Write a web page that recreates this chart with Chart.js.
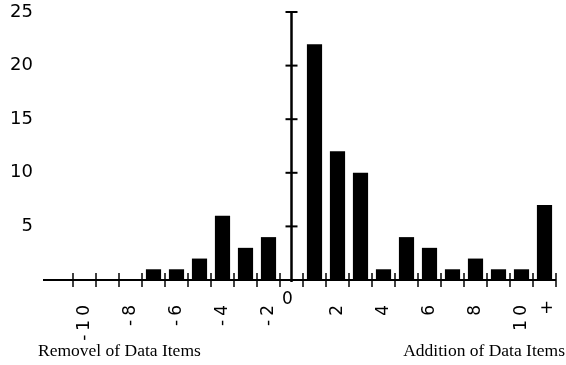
<!DOCTYPE html>
<html>
<head>
<meta charset="utf-8">
<title>Data item changes</title>
<script src="https://cdn.jsdelivr.net/npm/chart.js@4/dist/chart.umd.min.js"></script>
<style>
  body { margin: 0; background: #fff; }
  canvas { display: block; }
</style>
</head>
<body>
<canvas id="graphicChanges" width="566" height="365"></canvas>
<script>
// bins of the histogram, left to right (the y axis sits on the "0" bin)
const categories = ["", "-10", "-9", "-8", "-7", "-6", "-5", "-4", "-3", "-2", "0",
  "1", "2", "3", "4", "5", "6", "7", "8", "9", "10", "+"];
// number of cases in each bin
const counts = [0, 0, 0, 0, 1, 1, 2, 6, 3, 4, 0,
  22, 12, 10, 1, 4, 3, 1, 2, 1, 1, 7];
// labels printed under the x axis
const xTickLabels = ["", "-10", "", "-8", "", "-6", "", "-4", "", "-2", "0",
  "", "2", "", "4", "", "6", "", "8", "", "10", "+"];
const yTicks = [5, 10, 15, 20, 25];
const leftTitle = "Removel of Data Items";
const rightTitle = "Addition of Data Items";

const zeroIndex = categories.indexOf("0");

// draws the crossed axes, tick marks and the x labels by hand
const axesPlugin = {
  id: "axesPlugin",
  afterDatasetsDraw(chart) {
    const ctx = chart.ctx;
    const x = chart.scales.x;
    const y = chart.scales.y;
    const area = chart.chartArea;
    const y0 = y.getPixelForValue(0);
    const bin = x.getPixelForValue(1) - x.getPixelForValue(0);

    ctx.save();
    ctx.strokeStyle = "#000";
    ctx.fillStyle = "#000";
    ctx.lineWidth = 2;

    // x axis line
    ctx.beginPath();
    ctx.moveTo(area.left - 7, y0);
    ctx.lineTo(area.right, y0);
    ctx.stroke();

    // ticks on the bin edges, across the line
    ctx.lineWidth = 1.5;
    for (let i = 1; i <= categories.length; i++) {
      const px = x.getPixelForValue(i) - bin / 2;
      ctx.beginPath();
      ctx.moveTo(px, y0 - 7);
      ctx.lineTo(px, y0 + 7);
      ctx.stroke();
    }

    // y axis through the middle of the "0" bin
    const ax = x.getPixelForValue(zeroIndex);
    ctx.lineWidth = 2.5;
    ctx.beginPath();
    ctx.moveTo(ax, y.getPixelForValue(25));
    ctx.lineTo(ax, y0 + 2);
    ctx.stroke();
    ctx.lineWidth = 2;
    yTicks.forEach((v) => {
      const py = y.getPixelForValue(v);
      ctx.beginPath();
      ctx.moveTo(ax - 6, py);
      ctx.lineTo(ax + 6, py);
      ctx.stroke();
    });

    // x labels, rotated except "0" and "+"
    ctx.font = "17px 'DejaVu Sans'";
    xTickLabels.forEach((label, i) => {
      if (!label) return;
      const px = x.getPixelForValue(i);
      if (label === "0") {
        ctx.textAlign = "center";
        ctx.textBaseline = "top";
        ctx.fillText(label, px - 4, y0 + 11);
      } else if (label === "+") {
        ctx.textAlign = "center";
        ctx.textBaseline = "middle";
        ctx.fillText(label, px + 2, y0 + 29);
      } else {
        ctx.save();
        ctx.translate(px, y0 + 25);
        ctx.rotate(-Math.PI / 2);
        ctx.textAlign = "right";
        ctx.textBaseline = "middle";
        ctx.letterSpacing = "4px";
        ctx.fillText(label, 4, 0);
        ctx.restore();
      }
    });

    // titles under each side
    ctx.font = "17.5px 'Liberation Serif'";
    ctx.textBaseline = "alphabetic";
    ctx.textAlign = "left";
    ctx.fillText(leftTitle, 38, chart.height - 9);
    ctx.textAlign = "right";
    ctx.fillText(rightTitle, chart.width - 1, chart.height - 9);
    ctx.restore();
  },
};

function getGraphicChanges() {
  const chrt = document.getElementById("graphicChanges").getContext("2d");
  new Chart(chrt, {
    type: "bar",
    data: {
      labels: categories,
      datasets: [
        {
          label: "Cases",
          data: counts,
          backgroundColor: "#000",
          borderWidth: 0,
          barPercentage: 0.66,
          categoryPercentage: 1,
        },
      ],
    },
    options: {
      responsive: false,
      animation: false,
      layout: {
        padding: { top: 12, right: 10, bottom: 85, left: 0 },
      },
      scales: {
        x: {
          display: false,
          offset: true,
        },
        y: {
          min: 0,
          max: 25,
          afterFit(scale) {
            scale.width = 50;
            scale.paddingTop = 0;
            scale.paddingBottom = 0;
          },
          afterBuildTicks(scale) {
            scale.ticks = yTicks.map((v) => ({ value: v }));
          },
          grid: { display: false, drawTicks: false },
          border: { display: false },
          ticks: {
            color: "#000",
            padding: 17,
            font: { family: "'DejaVu Sans'", size: 18 },
          },
        },
      },
      plugins: {
        legend: { display: false },
        title: { display: false },
        tooltip: { enabled: false },
      },
    },
    plugins: [axesPlugin],
  });
}

getGraphicChanges();
</script>
</body>
</html>
